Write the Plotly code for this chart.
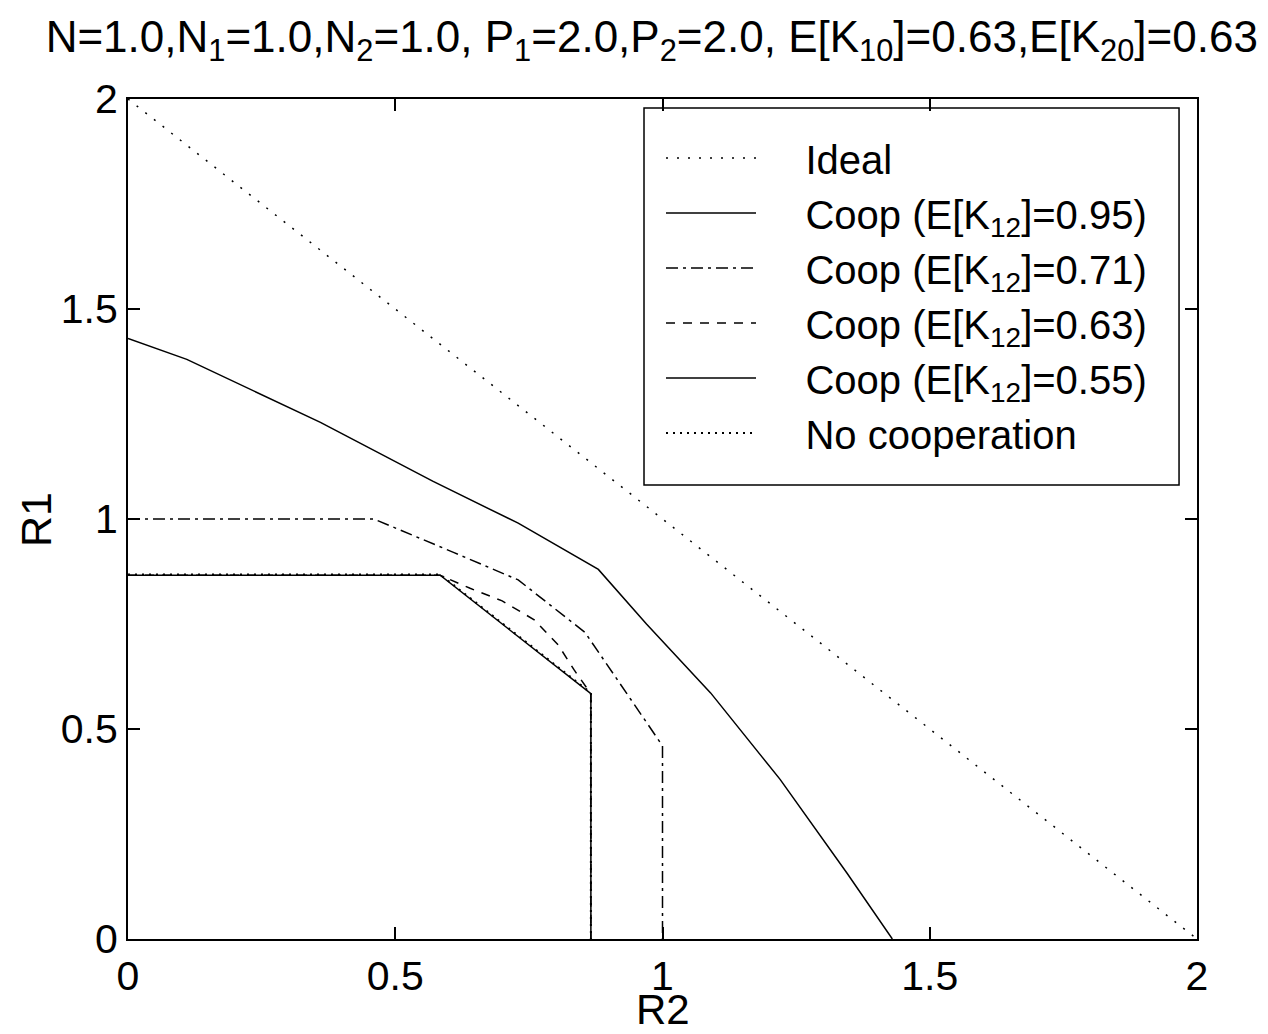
import plotly.graph_objects as go

# ---- data (R2 on x, R1 on y) ----
ideal_r2 = [0.0, 2.0]
ideal_r1 = [2.0, 0.0]

coop095_r2 = [0.0, 0.11, 0.36, 0.57, 0.73, 0.88, 0.97, 1.09, 1.22, 1.345, 1.43]
coop095_r1 = [1.43, 1.38, 1.23, 1.09, 0.99, 0.88, 0.75, 0.586, 0.38, 0.157, 0.0]

coop071_r2 = [0.0, 0.46, 0.61, 0.73, 0.855, 0.92, 1.0, 1.0]
coop071_r1 = [1.0, 1.0, 0.92, 0.855, 0.73, 0.61, 0.46, 0.0]

coop063_r2 = [0.0, 0.584, 0.64, 0.70, 0.76, 0.805, 0.835, 0.866, 0.866]
coop063_r1 = [0.866, 0.866, 0.835, 0.805, 0.76, 0.70, 0.64, 0.584, 0.0]

coop055_r2 = [0.0, 0.584, 0.866, 0.866]
coop055_r1 = [0.866, 0.866, 0.584, 0.0]

nocoop_r2 = [0.0, 0.584, 0.866, 0.866]
nocoop_r1 = [0.868, 0.868, 0.586, 0.0]

ticks = [0, 0.5, 1, 1.5, 2]
tick_text = ["0", "0.5", "1", "1.5", "2"]

series_names = ["Ideal",
                "Coop (E[K<sub>12</sub>]=0.95)",
                "Coop (E[K<sub>12</sub>]=0.71)",
                "Coop (E[K<sub>12</sub>]=0.63)",
                "Coop (E[K<sub>12</sub>]=0.55)",
                "No cooperation"]

title_text = ("N=1.0,N<sub>1</sub>=1.0,N<sub>2</sub>=1.0, P<sub>1</sub>=2.0,P<sub>2</sub>=2.0, "
              "E[K<sub>10</sub>]=0.63,E[K<sub>20</sub>]=0.63")
x_label = "R2"
y_label = "R1"

FONT = "Liberation Sans, Arial, Helvetica, sans-serif"
PAD = "\u00a0" * 4

fig = go.Figure()
fig.add_trace(go.Scatter(x=ideal_r2, y=ideal_r1, mode="lines", name=PAD + series_names[0],
                         line=dict(color="black", width=1.5, dash="2px,9px")))
fig.add_trace(go.Scatter(x=coop095_r2, y=coop095_r1, mode="lines",
                         name=PAD + series_names[1],
                         line=dict(color="black", width=1.5)))
fig.add_trace(go.Scatter(x=coop071_r2, y=coop071_r1, mode="lines",
                         name=PAD + series_names[2],
                         line=dict(color="black", width=1.5, dash="12px,5px,3px,5px")))
fig.add_trace(go.Scatter(x=coop063_r2, y=coop063_r1, mode="lines",
                         name=PAD + series_names[3],
                         line=dict(color="black", width=1.5, dash="9px,8px")))
fig.add_trace(go.Scatter(x=coop055_r2, y=coop055_r1, mode="lines",
                         name=PAD + series_names[4],
                         line=dict(color="black", width=1.5)))
fig.add_trace(go.Scatter(x=nocoop_r2, y=nocoop_r1, mode="lines",
                         name=PAD + series_names[5],
                         line=dict(color="black", width=2, dash="2px,5px")))

axis_common = dict(
    range=[0, 2], tickvals=ticks, ticktext=tick_text,
    showgrid=False, zeroline=False,
    showline=True, linecolor="black", linewidth=2, mirror="ticks",
    ticks="inside", ticklen=12, tickwidth=1.5, tickcolor="black",
    tickfont=dict(family=FONT, size=41, color="black"),
    automargin=False,
)

fig.update_layout(
    width=1268, height=1034,
    paper_bgcolor="white", plot_bgcolor="white",
    margin=dict(l=128, r=71, t=99, b=95, autoexpand=False),
    font=dict(family=FONT, color="black"),
    title=dict(text=title_text, x=0.514, xref="container", xanchor="center",
               y=0.965, yref="container", yanchor="middle",
               font=dict(family=FONT, size=44, color="black")),
    xaxis=dict(axis_common, ticklabelstandoff=0),
    yaxis=dict(axis_common),
    legend=dict(x=0.4986, y=0.9685, xanchor="left", yanchor="top",
                bgcolor="rgba(0,0,0,0)", borderwidth=0,
                font=dict(family=FONT, size=40, color="black"),
                itemwidth=90, tracegroupgap=0),
    showlegend=True,
    shapes=[dict(type="rect", xref="paper", yref="paper",
                 x0=0.4827, x1=0.9832, y0=0.5405, y1=0.9893,
                 line=dict(color="black", width=1.5), fillcolor="white",
                 layer="below")],
    annotations=[
        dict(text=x_label, xref="paper", yref="paper", x=0.5, y=-0.0845,
             xanchor="center", yanchor="middle", showarrow=False,
             font=dict(family=FONT, size=42, color="black")),
        dict(text=y_label, xref="paper", yref="paper", x=-0.0861, y=0.5,
             xanchor="center", yanchor="middle", showarrow=False, textangle=-90,
             font=dict(family=FONT, size=43, color="black")),
    ],
)

fig.write_html("out.html", config={"displayModeBar": False},
               post_script="document.body.style.margin='0';")
